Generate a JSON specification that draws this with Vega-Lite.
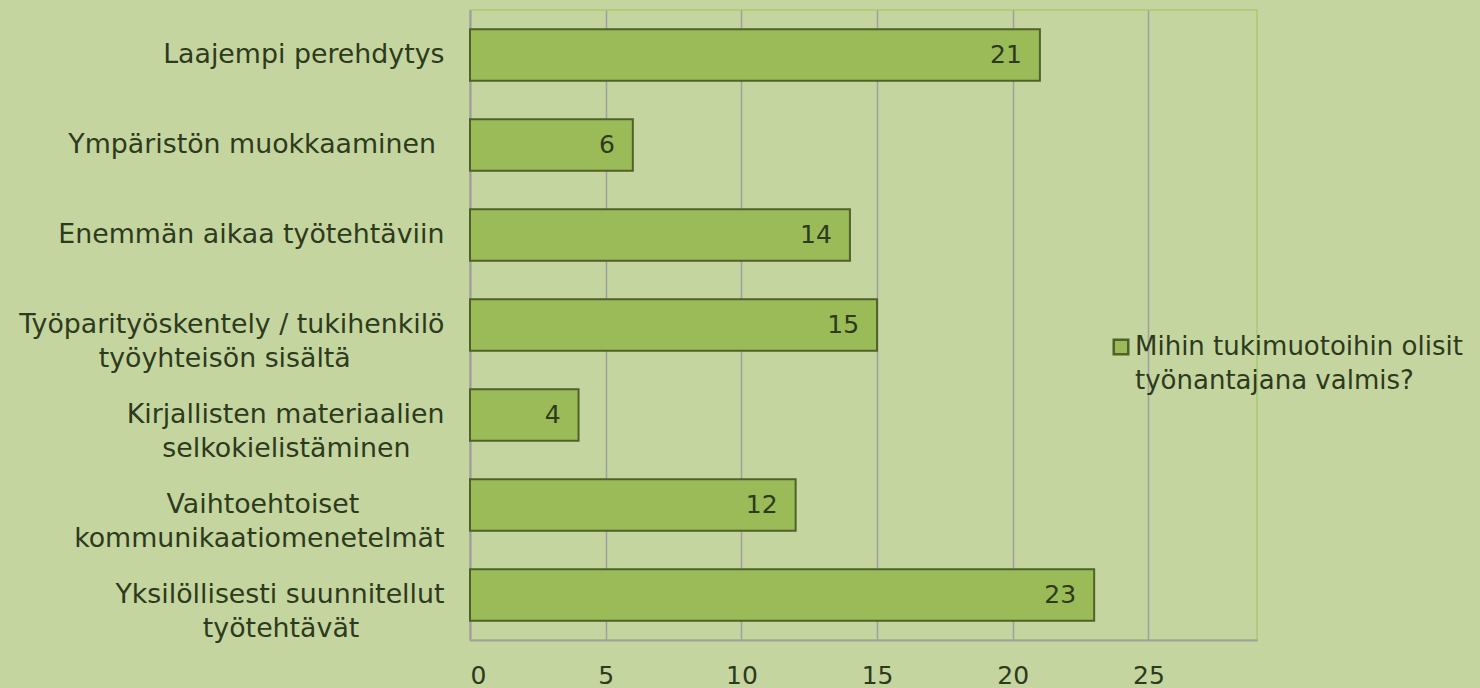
{
  "$schema": "https://vega.github.io/schema/vega-lite/v6.json",
  "width": 787,
  "height": 630,
  "autosize": {"type": "none"},
  "padding": {"left": 470, "top": 10, "right": 223, "bottom": 48},
  "background": "#c5d5a0",
  "config": {
    "font": "DejaVu Sans",
    "view": {"stroke": "#a9c96e", "strokeWidth": 1.5},
    "style": {"guide-label": {"lineHeight": 34}}
  },
  "data": {
    "values": [
      {"tukimuoto": "Laajempi perehdytys", "lkm": 21, "sarja": "Mihin tukimuotoihin olisit työnantajana valmis?"},
      {"tukimuoto": "Ympäristön muokkaaminen", "lkm": 6, "sarja": "Mihin tukimuotoihin olisit työnantajana valmis?"},
      {"tukimuoto": "Enemmän aikaa työtehtäviin", "lkm": 14, "sarja": "Mihin tukimuotoihin olisit työnantajana valmis?"},
      {"tukimuoto": "Työparityöskentely / tukihenkilö työyhteisön sisältä", "lkm": 15, "sarja": "Mihin tukimuotoihin olisit työnantajana valmis?"},
      {"tukimuoto": "Kirjallisten materiaalien selkokielistäminen", "lkm": 4, "sarja": "Mihin tukimuotoihin olisit työnantajana valmis?"},
      {"tukimuoto": "Vaihtoehtoiset kommunikaatiomenetelmät", "lkm": 12, "sarja": "Mihin tukimuotoihin olisit työnantajana valmis?"},
      {"tukimuoto": "Yksilöllisesti suunnitellut työtehtävät", "lkm": 23, "sarja": "Mihin tukimuotoihin olisit työnantajana valmis?"}
    ]
  },
  "encoding": {
    "y": {
      "field": "tukimuoto",
      "type": "nominal",
      "sort": null,
      "scale": {"paddingInner": 0.43, "paddingOuter": 0.215},
      "axis": {
        "title": null,
        "ticks": false,
        "grid": false,
        "domainColor": "#a0a0a0",
        "domainWidth": 2,
        "labelPadding": 26,
        "labelFontSize": 26.8,
        "labelColor": "#2d3a1c",
        "labelLimit": 1000,
        "labelExpr": "datum.value == 'Ympäristön muokkaaminen' ? 'Ympäristön muokkaaminen\u00a0\u200b' : datum.value == 'Työparityöskentely / tukihenkilö työyhteisön sisältä' ? ['Työparityöskentely / tukihenkilö', 'työyhteisön sisältä\u00a0\u00a0\u00a0\u00a0\u00a0\u00a0\u00a0\u00a0\u00a0\u00a0\u00a0\u200b'] : datum.value == 'Kirjallisten materiaalien selkokielistäminen' ? ['Kirjallisten materiaalien', 'selkokielistäminen\u00a0\u00a0\u00a0\u00a0\u200b'] : datum.value == 'Vaihtoehtoiset kommunikaatiomenetelmät' ? ['Vaihtoehtoiset\u00a0\u00a0\u00a0\u00a0\u00a0\u00a0\u00a0\u00a0\u00a0\u00a0\u200b', 'kommunikaatiomenetelmät'] : datum.value == 'Yksilöllisesti suunnitellut työtehtävät' ? ['Yksilöllisesti suunnitellut', 'työtehtävät\u00a0\u00a0\u00a0\u00a0\u00a0\u00a0\u00a0\u00a0\u00a0\u00a0\u200b'] : datum.label"
      }
    },
    "x": {
      "field": "lkm",
      "type": "quantitative",
      "scale": {"domain": [0, 29], "nice": false},
      "axis": {
        "title": null,
        "ticks": false,
        "values": [0, 5, 10, 15, 20, 25],
        "domainColor": "#a0a0a0",
        "domainWidth": 2,
        "grid": true,
        "gridColor": "#a0a0a0",
        "gridWidth": 1.5,
        "labelPadding": 23,
        "labelFontSize": 25,
        "labelColor": "#2d3a1c"
      }
    }
  },
  "layer": [
    {
      "mark": {"type": "bar", "stroke": "#4f6228", "strokeWidth": 2},
      "encoding": {
        "color": {
          "field": "sarja",
          "type": "nominal",
          "scale": {"range": ["#9bbb59"]},
          "legend": {
            "title": null,
            "orient": "none",
            "legendX": 638,
            "legendY": 324,
            "padding": 0,
            "symbolType": "square",
            "symbolSize": 210,
            "symbolStrokeColor": "#4f6228",
            "symbolStrokeWidth": 2.5,
            "labelOffset": 1,
            "labelFontSize": 26,
            "labelColor": "#2d3a1c",
            "labelLimit": 1000,
            "labelExpr": "['Mihin tukimuotoihin olisit', 'työnantajana valmis?']"
          }
        }
      }
    },
    {
      "mark": {"type": "text", "align": "right", "baseline": "middle", "dx": -18, "fontSize": 25, "color": "#2d3a1c"},
      "encoding": {"text": {"field": "lkm", "type": "quantitative"}}
    }
  ]
}
